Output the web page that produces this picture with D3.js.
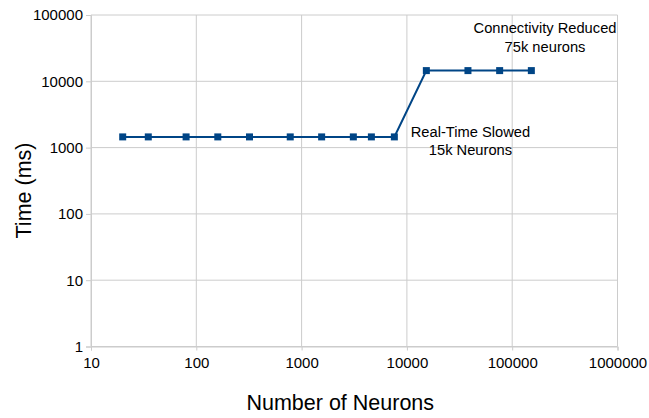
<!DOCTYPE html>
<html>
<head>
<meta charset="UTF-8">
<title>neurons</title>
<script src="https://d3js.org/d3.v7.min.js"></script>
<style>
    body { margin: 0; background: #fff; }
    text { font-family: "Liberation Sans", Arial, sans-serif; fill: #000; }
</style>
</head>
<body>
<svg id="chart"></svg>
<script>
    // data
    var neurons = [20, 35, 80, 160, 320, 780, 1550, 3100, 4600, 7600, 15300, 38000, 76000, 152000];
    var timeMs = [1450, 1450, 1450, 1450, 1450, 1450, 1450, 1450, 1450, 1450, 14500, 14500, 14500, 14500];
    var xTicks = [10, 100, 1000, 10000, 100000, 1000000];
    var yTicks = [1, 10, 100, 1000, 10000, 100000];
    var noteText = [["Connectivity Reduced", "75k neurons"], ["Real-Time Slowed", "15k Neurons"]];
    var noteAt = [[75000, 100000], [15000, 1450]];

    var W = 649, H = 418;
    var mLeft = 91, mRight = 617.5, mTop = 15, mBottom = 346.5;

    var svg = d3.select("#chart").attr("width", W).attr("height", H);

    var x = d3.scaleLog().domain([10, 1000000]).range([mLeft, mRight]);
    var y = d3.scaleLog().domain([1, 100000]).range([mBottom, mTop]);

    // grid
    svg.append("g").selectAll("line").data(xTicks).enter().append("line")
        .attr("x1", d => x(d)).attr("x2", d => x(d))
        .attr("y1", mTop).attr("y2", mBottom)
        .attr("stroke", "#cccccc").attr("stroke-width", 1);
    svg.append("g").selectAll("line").data(yTicks).enter().append("line")
        .attr("x1", mLeft).attr("x2", mRight)
        .attr("y1", d => y(d)).attr("y2", d => y(d))
        .attr("stroke", "#cccccc").attr("stroke-width", 1);

    var xAxis = svg.append("g")
        .attr("transform", "translate(0," + mBottom + ")")
        .call(d3.axisBottom(x).tickValues(xTicks).tickFormat(d3.format("d")).tickSize(4).tickPadding(7));
    var yAxis = svg.append("g")
        .attr("transform", "translate(" + mLeft + ",0)")
        .call(d3.axisLeft(y).tickValues(yTicks).tickFormat(d3.format("d")).tickSize(5).tickPadding(3));

    [xAxis, yAxis].forEach(function(a) {
        a.select(".domain").attr("stroke", "#cccccc");
        a.selectAll(".tick line").attr("stroke", "#cccccc");
        a.selectAll(".tick text")
            .attr("font-family", "Liberation Sans, Arial, sans-serif")
            .attr("font-size", 15).attr("fill", "#000");
    });

    // axis titles
    svg.append("text")
        .attr("x", (mLeft + mRight) / 2 - 14).attr("y", 410)
        .attr("text-anchor", "middle").attr("font-size", 21.5)
        .text("Number of Neurons");
    svg.append("text")
        .attr("transform", "translate(31,190.5) rotate(-90)")
        .attr("text-anchor", "middle").attr("font-size", 21.5)
        .text("Time (ms)");

    // series
    var line = d3.line().x((d, i) => x(neurons[i])).y(d => y(d));
    svg.append("path").datum(timeMs)
        .attr("d", line)
        .attr("fill", "none").attr("stroke", "#004586").attr("stroke-width", 2);
    svg.append("g").selectAll("rect").data(timeMs).enter().append("rect")
        .attr("x", (d, i) => x(neurons[i]) - 3.5)
        .attr("y", d => y(d) - 3.5)
        .attr("width", 7).attr("height", 7)
        .attr("fill", "#004586");

    // annotations (pixel offsets from their anchor)
    var noteDx = [46, 45], noteDy = [18, 0];
    noteText.forEach(function(lines, k) {
        var t = svg.append("text").attr("text-anchor", "middle").attr("font-size", 14.7);
        lines.forEach(function(s, j) {
            t.append("tspan")
                .attr("x", x(noteAt[k][0]) + noteDx[k])
                .attr("y", y(noteAt[k][1]) + noteDy[k] + j * 18.5)
                .text(s);
        });
    });
</script>
</body>
</html>
